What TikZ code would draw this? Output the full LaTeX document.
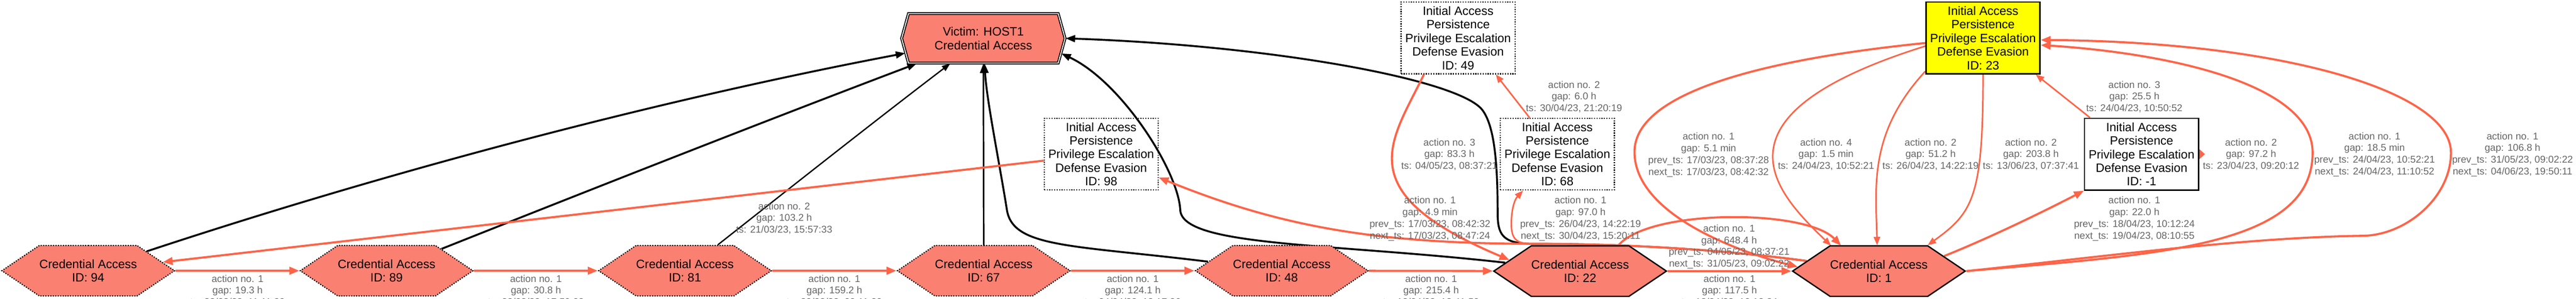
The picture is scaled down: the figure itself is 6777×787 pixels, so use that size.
\documentclass[tikz,border=0pt]{standalone}
\usepackage{fontspec}
\setmainfont{Liberation Sans}
\usetikzlibrary{shapes.symbols, shapes.misc, arrows.meta, backgrounds}
\definecolor{alertSalmon}{HTML}{FA8072}
\definecolor{edgeTomato}{HTML}{FF6347}
\definecolor{labelGray}{HTML}{666666}
\definecolor{startYellow}{HTML}{FFFF00}

\begin{document}
\begin{tikzpicture}[
    x=1bp, y=-1bp,
    hexa/.style={signal, signal to=east and west, signal pointer angle=68, fill=alertSalmon, draw=black, minimum width=453bp, minimum height=133bp, inner sep=0pt, align=center, font=\fontsize{32}{36}\selectfont},
    hexdot/.style={hexa, line width=3bp, dash pattern=on 3bp off 3.5bp},
    hexsolid/.style={hexa, line width=3.5bp},
    victim/.style={chamfered rectangle, chamfered rectangle angle=15.5, chamfered rectangle xsep=126bp, chamfered rectangle ysep=35bp, draw, double, double distance=2.5bp, line width=2.5bp, fill=alertSalmon, minimum width=430bp, minimum height=130bp, inner sep=0pt, align=center, font=\fontsize{32}{37}\selectfont},
    stage/.style={rectangle, draw, minimum width=300bp, minimum height=189bp, inner sep=0pt, align=center, font=\fontsize{32}{36}\selectfont},
    stagedot/.style={stage, line width=3bp, dash pattern=on 3bp off 3.5bp},
    stagesolid/.style={stage, line width=3.5bp},
    lbl/.style={text=labelGray, align=center, inner sep=0pt, font=\fontsize{26}{31}\selectfont},
    crit/.style={-{Triangle[length=26bp, width=20bp]}, draw=edgeTomato, line width=5.5bp},
    critthin/.style={-{Triangle[length=22bp, width=17bp]}, draw=edgeTomato, line width=4bp},
    tovic/.style={-{Triangle[length=25bp, width=18bp]}, draw=black, line width=5bp},
    tovicthin/.style={-{Triangle[length=22bp, width=16bp]}, draw=black, line width=3.5bp}
]
\useasboundingbox (0,0) rectangle (6777,787);

% victim and alert nodes
\node[victim] (vic) at (2587,101) {Victim: HOST1\\Credential Access};
\node[hexdot] (h94) at (232,713) {Credential Access\\ID: 94};
\node[hexdot] (h89) at (1017,713) {Credential Access\\ID: 89};
\node[hexdot] (h81) at (1802,713) {Credential Access\\ID: 81};
\node[hexdot] (h67) at (2588,713) {Credential Access\\ID: 67};
\node[hexdot] (h48) at (3372,713) {Credential Access\\ID: 48};
\node[hexsolid] (h22) at (4157,714) {Credential Access\\ID: 22};
\node[hexsolid] (h1) at (4943,714) {Credential Access\\ID: 1};

% stage boxes
\node[stagedot] (b98) at (2897,406) {Initial Access\\Persistence\\Privilege Escalation\\Defense Evasion\\ID: 98};
\node[stagedot] (b49) at (3836,100) {Initial Access\\Persistence\\Privilege Escalation\\Defense Evasion\\ID: 49};
\node[stagedot] (b68) at (4097,406) {Initial Access\\Persistence\\Privilege Escalation\\Defense Evasion\\ID: 68};
\node[stagesolid, fill=startYellow] (b23) at (5217,100) {Initial Access\\Persistence\\Privilege Escalation\\Defense Evasion\\ID: 23};
\node[stagesolid] (bm1) at (5634,406) {Initial Access\\Persistence\\Privilege Escalation\\Defense Evasion\\ID: -1};

% edge labels
\node[lbl] (l94) at (625,766) {action no. 1\\gap: 19.3 h\\ts: 22/03/23, 11:11:20};
\node[lbl] (l89) at (1410,766) {action no. 1\\gap: 30.8 h\\ts: 23/03/23, 17:59:08};
\node[lbl] (l81) at (2195,766) {action no. 1\\gap: 159.2 h\\ts: 30/03/23, 09:11:20};
\node[lbl] (l67) at (2980,766) {action no. 1\\gap: 124.1 h\\ts: 04/04/23, 13:17:26};
\node[lbl] (l48) at (3765,766) {action no. 1\\gap: 215.4 h\\ts: 13/04/23, 12:41:50};
\node[lbl] (l22) at (4550,766) {action no. 1\\gap: 117.5 h\\ts: 18/04/23, 10:12:24};
\node[lbl] (lvic) at (2063,575) {action no. 2\\gap: 103.2 h\\ts: 21/03/23, 15:57:33};
\node[lbl] (l98) at (3762,576) {action no. 1\\gap: 4.9 min\\prev\_ts: 17/03/23, 08:42:32\\next\_ts: 17/03/23, 08:47:24};
\node[lbl] (l49) at (3813,407) {action no. 3\\gap: 83.3 h\\ts: 04/05/23, 08:37:21};
\node[lbl] (l68up) at (4141,255) {action no. 2\\gap: 6.0 h\\ts: 30/04/23, 21:20:19};
\node[lbl] (l68) at (4158,576) {action no. 1\\gap: 97.0 h\\prev\_ts: 26/04/23, 14:22:19\\next\_ts: 30/04/23, 15:20:11};
\node[lbl] (ltop) at (4549,650) {action no. 1\\gap: 648.4 h\\prev\_ts: 04/05/23, 08:37:21\\next\_ts: 31/05/23, 09:02:22};
\node[lbl] (la) at (4495,408) {action no. 1\\gap: 5.1 min\\prev\_ts: 17/03/23, 08:37:28\\next\_ts: 17/03/23, 08:42:32};
\node[lbl] (lb) at (4804,407) {action no. 4\\gap: 1.5 min\\ts: 24/04/23, 10:52:21};
\node[lbl] (lc) at (5079,407) {action no. 2\\gap: 51.2 h\\ts: 26/04/23, 14:22:19};
\node[lbl] (ld) at (5343,407) {action no. 2\\gap: 203.8 h\\ts: 13/06/23, 07:37:41};
\node[lbl] (lm1up) at (5615,255) {action no. 3\\gap: 25.5 h\\ts: 24/04/23, 10:50:52};
\node[lbl] (lm1) at (5615,576) {action no. 1\\gap: 22.0 h\\prev\_ts: 18/04/23, 10:12:24\\next\_ts: 19/04/23, 08:10:55};
\node[lbl] (lself) at (5922,407) {action no. 2\\gap: 97.2 h\\ts: 23/04/23, 09:20:12};
\node[lbl] (lin) at (6247,407) {action no. 1\\gap: 18.5 min\\prev\_ts: 24/04/23, 10:52:21\\next\_ts: 24/04/23, 11:10:52};
\node[lbl] (lout) at (6610,407) {action no. 1\\gap: 106.8 h\\prev\_ts: 31/05/23, 09:02:22\\next\_ts: 04/06/23, 19:50:11};

\begin{scope}[on background layer]
% edges into the victim
\draw[tovic] (h94) .. controls (1011,455) and (1724,265) .. (vic);
\draw[tovic] (h89) .. controls (1590,485) and (2030,312) .. (vic);
\draw[tovicthin] (h81) .. controls (2100,478) and (2310,312) .. (vic);
\draw[tovic, line width=4bp] (h67) -- (vic);
\draw[tovic] (h48) .. controls (2820,645) and (2665,653) .. (2649,553) .. controls (2630,433) and (2595,260) .. (vic);
\draw[tovic] (h22) .. controls (3500,640) and (3110,650) .. (3105,553) .. controls (3100,450) and (2950,215) .. (vic.-11);
\draw[tovic] (h1.172) .. controls (4550,660) and (4300,642) .. (4030,642) .. controls (3950,642) and (3940,615) .. (3940,560) .. controls (3940,420) and (3930,330) .. (3900,290) .. controls (3840,210) and (3350,120) .. (vic.east);

% alert chain
\draw[crit] (h94) -- (h89);
\draw[crit] (h89) -- (h81);
\draw[crit] (h81) -- (h67);
\draw[crit] (h67) -- (h48);
\draw[crit] (h48) -- (h22);
\draw[crit] (h22) -- (h1);

% stage edges
\draw[crit] (b98) -- (h94);
\draw[crit] (h1.172) .. controls (4550,660) and (4300,642) .. (4030,642) .. controls (3600,642) and (3350,590) .. (b98);
\draw[critthin] (h1.172) .. controls (4550,660) and (4300,642) .. (4030,642) .. controls (3990,642) and (3976,630) .. (3976,590) .. controls (3976,550) and (3985,525) .. (b68);
\draw[critthin] ([xshift=-73bp]b68.north) -- ([xshift=99bp]b49.south);
\draw[crit] ([xshift=-90bp]b49.south) .. controls (3660,374) and (3544,505) .. (h22.171);
\draw[crit] (h22.34) .. controls (4340,550) and (4750,550) .. (h1.146);
\draw[crit] (b23.-175) .. controls (4700,150) and (4300,230) .. (4300,400) .. controls (4300,560) and (4560,660) .. (h1.177);
\draw[critthin] (b23.-172) .. controls (4474,306) and (4675,510) .. (h1.152);
\draw[critthin] (b23.-150) .. controls (4915,350) and (4935,493) .. (h1.94);
\draw[critthin] (b23.south) .. controls (5217,520) and (5190,560) .. (h1.28);
\draw[crit] (h1.13) .. controls (5250,620) and (5400,545) .. (bm1.south west);
\draw[critthin] ([xshift=16bp]bm1.north west) -- ([xshift=-13bp]b23.south east);
\draw[critthin, -{Triangle[length=15bp, width=26bp]}] (bm1.east) -- ([xshift=15bp]bm1.east);
\draw[crit] (h1.east) .. controls (5671,670) and (6084,652) .. (6084,402) .. controls (6084,220) and (5700,140) .. (b23.-7);
\draw[crit] (h1.east) .. controls (5500,680) and (5900,625) .. (6217,621) .. controls (6330,619) and (6448,520) .. (6448,402) .. controls (6448,240) and (6000,110) .. (b23.-2);
\end{scope}

\end{tikzpicture}
\end{document}
